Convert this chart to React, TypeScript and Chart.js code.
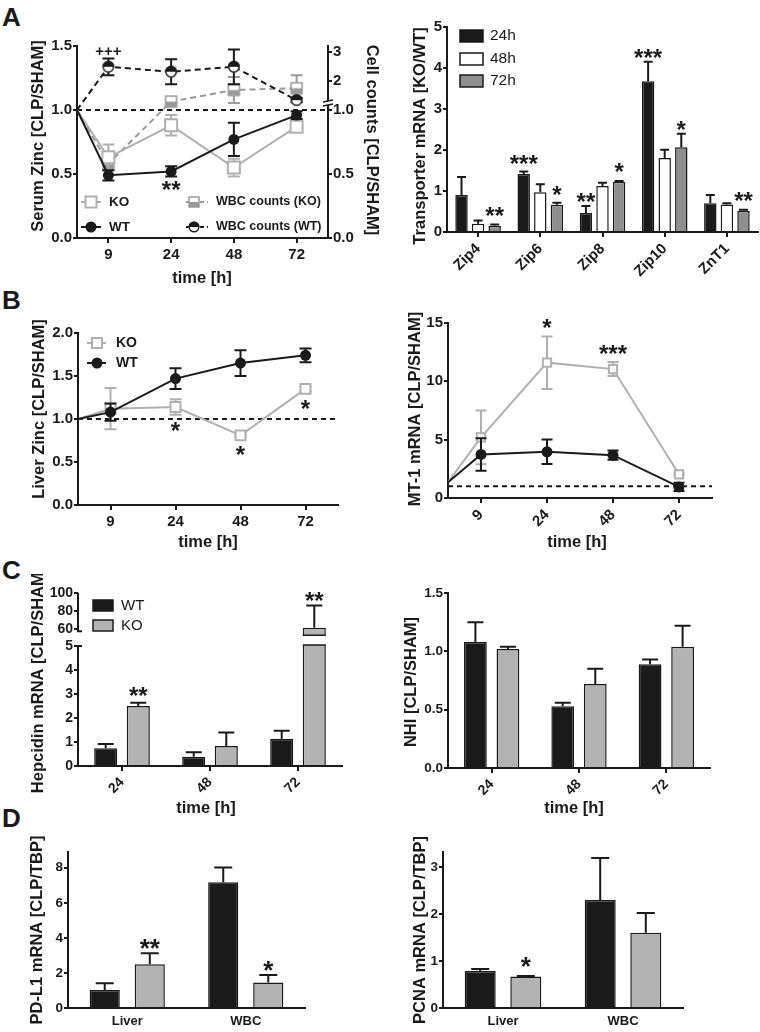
import React, { useEffect, useRef } from 'react';
import { Chart, registerables } from 'chart.js';

Chart.register(...registerables);

const FONT = '"Liberation Sans", Arial, Helvetica, sans-serif';
Chart.defaults.font.family = FONT;

const INK = '#1a1a1a';
const KO_GRAY = '#b0b0b0';
const WBC_GRAY = '#9a9a9a';
const BAR_LIGHT = '#b3b3b3';
const BAR_MID = '#8f8f8f';

// ================= DATA =================
// Panel A (left): serum zinc and WBC counts [CLP/SHAM]; first value = baseline at axis start
const TIME_LABELS = ['9', '24', '48', '72'];
const A_KO_ZINC = [1.0, 0.63, 0.88, 0.55, 0.87];
const A_KO_ZINC_SEM = [0, 0.1, 0.08, 0.07, 0.03];
const A_WT_ZINC = [1.0, 0.49, 0.52, 0.77, 0.96];
const A_WT_ZINC_SEM = [0, 0.04, 0.04, 0.13, 0.03];
const A_KO_WBC = [1.0, 0.58, 1.29, 1.69, 1.75];
const A_KO_WBC_SEM = [0, 0.05, 0.06, 0.45, 0.45];
const A_WT_WBC = [1.0, 2.49, 2.32, 2.49, 1.34];
const A_WT_WBC_SEM = [0, 0.29, 0.43, 0.6, 0.07];
const A_ZINC_TICKS = [0, 0.5, 1.0, 1.5];
const A_CELL_TICKS = [0, 0.5, 1.0, 2, 3];

// Panel A (right): transporter mRNA [KO/WT]
const ZIP_GENES = ['Zip4', 'Zip6', 'Zip8', 'Zip10', 'ZnT1'];
const ZIP_24H = [0.9, 1.41, 0.46, 3.67, 0.7];
const ZIP_24H_SEM = [0.44, 0.06, 0.17, 0.47, 0.2];
const ZIP_48H = [0.2, 0.97, 1.12, 1.8, 0.67];
const ZIP_48H_SEM = [0.08, 0.19, 0.08, 0.2, 0.03];
const ZIP_72H = [0.15, 0.66, 1.22, 2.06, 0.52];
const ZIP_72H_SEM = [0.03, 0.05, 0.02, 0.33, 0.02];
const ZIP_TICKS = [0, 1, 2, 3, 4, 5];

// Panel B (left): liver zinc
const B_KO_LIVER = [1.0, 1.12, 1.14, 0.81, 1.35];
const B_KO_LIVER_SEM = [0, 0.24, 0.09, 0.02, 0.03];
const B_WT_LIVER = [1.0, 1.08, 1.47, 1.65, 1.74];
const B_WT_LIVER_SEM = [0, 0.1, 0.12, 0.15, 0.08];
const B_LIVER_TICKS = [0, 0.5, 1.0, 1.5, 2.0];

// Panel B (right): MT-1 mRNA
const B_KO_MT1 = [1.35, 5.2, 11.6, 11.05, 2.03];
const B_KO_MT1_SEM = [0, 2.3, 2.25, 0.6, 0.1];
const B_WT_MT1 = [1.35, 3.73, 3.96, 3.67, 0.95];
const B_WT_MT1_SEM = [0, 1.4, 1.05, 0.4, 0.35];
const B_MT1_TICKS = [0, 5, 10, 15];

// Panel C (left): hepcidin mRNA
const C_TIMES = ['24', '48', '72'];
const C_WT_HEPC = [0.74, 0.39, 1.14];
const C_WT_HEPC_SEM = [0.18, 0.18, 0.33];
const C_KO_HEPC = [2.5, 0.83, 61.5];
const C_KO_HEPC_SEM = [0.13, 0.57, 24.5];
const C_HEPC_TICKS = [0, 1, 2, 3, 4, 5, 60, 80, 100];

// Panel C (right): NHI
const C_WT_NHI = [1.08, 0.53, 0.89];
const C_WT_NHI_SEM = [0.17, 0.03, 0.04];
const C_KO_NHI = [1.02, 0.72, 1.04];
const C_KO_NHI_SEM = [0.02, 0.13, 0.18];
const C_NHI_TICKS = [0, 0.5, 1.0, 1.5];

// Panel D
const D_TISSUES = ['Liver', 'WBC'];
const D_WT_PDL1 = [1.03, 7.18];
const D_WT_PDL1_SEM = [0.38, 0.84];
const D_KO_PDL1 = [2.5, 1.45];
const D_KO_PDL1_SEM = [0.62, 0.43];
const D_PDL1_TICKS = [0, 2, 4, 6, 8];
const D_WT_PCNA = [0.79, 2.3];
const D_WT_PCNA_SEM = [0.04, 0.89];
const D_KO_PCNA = [0.67, 1.6];
const D_KO_PCNA_SEM = [0.01, 0.42];
const D_PCNA_TICKS = [0, 1, 2, 3];

// broken-axis transforms
const A_UPPER_K = 29 / 128;
const brkA = (v: number) => (v <= 1 ? v : 1 + (v - 1) * A_UPPER_K);
const C_GAP = 0.7;
const C_UPPER_K = 0.038;
const brkC = (v: number) => (v <= 5 ? v : 5 + C_GAP + (v - 60) * C_UPPER_K);
const ident = (v: number) => v;

// ================= HELPERS =================
type Frame = { cx: number; cy: number; cw: number; ch: number; L: number; T: number; R: number; B: number };
type Txt = { text: string; x: number; y: number; size: number; bold?: boolean; rot?: number; align?: CanvasTextAlign };
type Annot = { ds: number; i: number; text: string; where: 'above' | 'below'; size: number; gap?: number };

function drawMarker(g: any, kind: string, x: number, y: number, size: number, color: string) {
  const h = size / 2;
  g.save();
  g.lineWidth = 2;
  g.strokeStyle = color;
  if (kind === 'openSquare') {
    g.fillStyle = '#fff';
    g.fillRect(x - h, y - h, size, size);
    g.strokeRect(x - h, y - h, size, size);
  } else if (kind === 'dot') {
    g.fillStyle = color;
    g.beginPath();
    g.arc(x, y, h, 0, Math.PI * 2);
    g.fill();
  } else if (kind === 'halfSquare') {
    g.fillStyle = '#fff';
    g.fillRect(x - h, y - h, size, size);
    g.fillStyle = color;
    g.fillRect(x - h, y, size, h);
    g.lineWidth = 1.5;
    g.strokeRect(x - h, y - h, size, size);
  } else if (kind === 'halfCircle') {
    g.fillStyle = '#fff';
    g.beginPath();
    g.arc(x, y, h, 0, Math.PI * 2);
    g.fill();
    g.fillStyle = color;
    g.beginPath();
    g.arc(x, y, h, Math.PI, Math.PI * 2);
    g.closePath();
    g.fill();
    g.lineWidth = 1.5;
    g.beginPath();
    g.arc(x, y, h - 0.75, 0, Math.PI * 2);
    g.stroke();
  }
  g.restore();
}

function markerImage(kind: string, size: number, color: string) {
  const c = document.createElement('canvas');
  const s = Math.ceil(size + 4);
  c.width = s;
  c.height = s;
  drawMarker(c.getContext('2d'), kind, s / 2, s / 2, size, color);
  return c;
}

function tickFont(size: number) {
  return { family: FONT, size, weight: 'bold' as const };
}

function yScale(f: Frame, o: { min: number; max: number; ticks: number[]; fmt: (i: number) => string; size: number; position?: string; border?: boolean }) {
  const pos = o.position || 'left';
  return {
    type: 'linear',
    position: pos,
    min: o.min,
    max: o.max,
    afterBuildTicks: (s: any) => {
      s.ticks = o.ticks.map((v) => ({ value: v }));
    },
    afterFit: (s: any) => {
      s.width = pos === 'left' ? f.L - f.cx : f.cx + f.cw - f.R;
    },
    ticks: { font: tickFont(o.size), color: INK, padding: 1, autoSkip: false, callback: (_v: any, i: number) => o.fmt(i) },
    grid: { display: true, drawOnChartArea: false, drawTicks: true, tickLength: 4, tickWidth: 2, tickColor: INK, color: INK, lineWidth: 2 },
    border: { display: o.border === undefined ? true : o.border, color: INK, width: 2 },
  };
}

function xLinear(f: Frame, labels: string[], size: number, rotate: number) {
  return {
    type: 'linear',
    min: 0.5,
    max: labels.length + 0.5,
    afterBuildTicks: (s: any) => {
      s.ticks = labels.map((_, i) => ({ value: i + 1 }));
    },
    afterFit: (s: any) => {
      s.height = f.cy + f.ch - f.B;
    },
    ticks: { font: tickFont(size), color: INK, padding: 3, autoSkip: false, maxRotation: rotate, minRotation: rotate, callback: (_v: any, i: number) => labels[i] },
    grid: { display: true, drawOnChartArea: false, drawTicks: true, tickLength: 5, tickWidth: 2, tickColor: INK, color: INK, lineWidth: 2 },
    border: { display: true, color: INK, width: 2 },
  };
}

function xCategory(f: Frame, size: number, rotate: number, drawTicks: boolean, padding: number) {
  return {
    type: 'category',
    offset: true,
    afterFit: (s: any) => {
      s.height = f.cy + f.ch - f.B;
    },
    ticks: { font: tickFont(size), color: INK, padding, autoSkip: false, maxRotation: rotate, minRotation: rotate },
    grid: { display: true, offset: false, drawOnChartArea: false, drawTicks, tickLength: drawTicks ? 5 : 0, tickWidth: 2, tickColor: INK, color: INK, lineWidth: 2 },
    border: { display: true, color: INK, width: 2 },
  };
}

function baseOptions(f: Frame, scales: any, hasRight: boolean) {
  return {
    responsive: false,
    maintainAspectRatio: false,
    animation: false,
    devicePixelRatio: 1,
    events: [],
    layout: { padding: { left: 0, top: f.T - f.cy, right: hasRight ? 0 : f.cx + f.cw - f.R, bottom: 0 } },
    plugins: { legend: { display: false }, tooltip: { enabled: false }, title: { display: false } },
    scales,
  };
}

function drawTxt(ctx: any, f: Frame, t: Txt) {
  ctx.save();
  ctx.font = `${t.bold === false ? 'normal' : 'bold'} ${t.size}px ${FONT}`;
  ctx.fillStyle = INK;
  ctx.textAlign = t.align || 'center';
  ctx.textBaseline = 'middle';
  ctx.translate(t.x - f.cx, t.y - f.cy);
  if (t.rot) ctx.rotate(t.rot);
  ctx.fillText(t.text, 0, 0);
  ctx.restore();
}

function drawErr(chart: any, index: number, layer: string) {
  const ds: any = chart.data.datasets[index];
  if (!ds.errHi || ds.errLayer !== layer) return;
  const meta = chart.getDatasetMeta(index);
  const ys = chart.scales[meta.yAxisID];
  const ctx = chart.ctx;
  ctx.save();
  ctx.strokeStyle = ds.errColor;
  ctx.lineWidth = 2;
  meta.data.forEach((el: any, j: number) => {
    const hi = ds.errHi[j];
    if (hi === null || hi === undefined) return;
    const x = el.x;
    const yHi = ys.getPixelForValue(hi);
    const yLo = ds.errLo ? ys.getPixelForValue(ds.errLo[j]) : el.y;
    const cw = ds.capW / 2;
    ctx.beginPath();
    ctx.moveTo(x, yLo);
    ctx.lineTo(x, yHi);
    ctx.moveTo(x - cw, yHi);
    ctx.lineTo(x + cw, yHi);
    if (ds.errLo) {
      ctx.moveTo(x - cw, yLo);
      ctx.lineTo(x + cw, yLo);
    }
    ctx.stroke();
  });
  ctx.restore();
}

function drawAnnots(chart: any, annots: Annot[]) {
  const ctx = chart.ctx;
  annots.forEach((a) => {
    const ds: any = chart.data.datasets[a.ds];
    const meta = chart.getDatasetMeta(a.ds);
    const el: any = meta.data[a.i];
    const ys = chart.scales[meta.yAxisID];
    const gap = a.gap === undefined ? 4 : a.gap;
    ctx.save();
    ctx.font = `bold ${a.size}px ${FONT}`;
    ctx.fillStyle = INK;
    ctx.textAlign = 'center';
    ctx.textBaseline = 'alphabetic';
    const m = ctx.measureText(a.text);
    if (a.where === 'above') {
      const hi = ds.errHi && ds.errHi[a.i] != null ? ys.getPixelForValue(ds.errHi[a.i]) : el.y;
      const top = Math.min(hi, el.y - 6);
      ctx.fillText(a.text, el.x, top - gap - m.actualBoundingBoxDescent);
    } else {
      const lo = ds.errLo && ds.errLo[a.i] != null ? ys.getPixelForValue(ds.errLo[a.i]) : el.y;
      const bot = Math.max(lo, el.y + 6);
      ctx.fillText(a.text, el.x, bot + gap + m.actualBoundingBoxAscent);
    }
    ctx.restore();
  });
}

function decor(f: Frame, o: { titles: Txt[]; annots?: Annot[]; refLine?: number; legend?: (ctx: any) => void; overlay?: (chart: any) => void }) {
  return {
    id: 'decor',
    beforeDatasetsDraw(chart: any) {
      if (o.refLine === undefined) return;
      const ctx = chart.ctx;
      const y = chart.scales.y.getPixelForValue(o.refLine);
      ctx.save();
      ctx.strokeStyle = INK;
      ctx.lineWidth = 2;
      ctx.setLineDash([5, 4]);
      ctx.beginPath();
      ctx.moveTo(chart.chartArea.left, y);
      ctx.lineTo(chart.chartArea.right, y);
      ctx.stroke();
      ctx.restore();
    },
    beforeDatasetDraw(chart: any, args: any) {
      drawErr(chart, args.index, 'below');
    },
    afterDatasetDraw(chart: any, args: any) {
      drawErr(chart, args.index, 'above');
    },
    afterDraw(chart: any) {
      const ctx = chart.ctx;
      if (o.overlay) o.overlay(chart);
      if (o.annots) drawAnnots(chart, o.annots);
      if (o.legend) o.legend(ctx);
      o.titles.forEach((t) => drawTxt(ctx, f, t));
    },
  };
}

function lineSeries(vals: number[], sem: number[], map: (v: number) => number) {
  const pos = [0.5, ...TIME_LABELS.map((_, i) => i + 1)];
  return {
    data: vals.map((v, i) => ({ x: pos[i], y: map(v) })),
    errHi: vals.map((v, i) => (sem[i] ? map(v + sem[i]) : null)),
    errLo: vals.map((v, i) => (sem[i] ? map(v - sem[i]) : null)),
  };
}

function radii(n: number, r: number) {
  return Array.from({ length: n }, (_, i) => (i === 0 ? 0 : r));
}

function barSeries(vals: number[], sem: number[], map: (v: number) => number) {
  return { data: vals.map(map), errHi: vals.map((v, i) => map(v + sem[i])) };
}

function lineLegend(ctx: any, f: Frame, items: any[]) {
  items.forEach((it) => {
    ctx.save();
    ctx.strokeStyle = it.color;
    ctx.lineWidth = 2;
    if (it.dash) ctx.setLineDash([4, 3]);
    ctx.beginPath();
    ctx.moveTo(it.x1 - f.cx, it.y - f.cy);
    ctx.lineTo(it.x2 - f.cx, it.y - f.cy);
    ctx.stroke();
    ctx.restore();
    drawMarker(ctx, it.kind, it.mx - f.cx, it.y - f.cy, it.size, it.color);
    drawTxt(ctx, f, { text: it.text, x: it.tx, y: it.y, size: it.fs, align: 'left' });
  });
}

function boxLegend(ctx: any, f: Frame, items: any[]) {
  items.forEach((it) => {
    ctx.save();
    ctx.fillStyle = it.fill;
    ctx.strokeStyle = INK;
    ctx.lineWidth = 1.5;
    ctx.fillRect(it.x - f.cx, it.y - f.cy, it.w, it.h);
    ctx.strokeRect(it.x - f.cx, it.y - f.cy, it.w, it.h);
    ctx.restore();
    drawTxt(ctx, f, { text: it.text, x: it.tx, y: it.y + it.h / 2, size: it.fs, bold: false, align: 'left' });
  });
}

// ================= PANELS =================
const FA1: Frame = { cx: 0, cy: 26, cw: 390, ch: 266, L: 77, T: 46, B: 238, R: 328 };
function buildA1(f: Frame) {
  const halfC = markerImage('halfCircle', 12, INK);
  const halfS = markerImage('halfSquare', 11, WBC_GRAY);
  const datasets = [
    { label: 'WT', ...lineSeries(A_WT_ZINC, A_WT_ZINC_SEM, ident), yAxisID: 'y', borderColor: INK, borderWidth: 2, pointStyle: 'circle', pointRadius: radii(5, 5.5), pointBackgroundColor: INK, pointBorderColor: INK, pointBorderWidth: 0, errColor: INK, capW: 12, errLayer: 'below' },
    { label: 'KO', ...lineSeries(A_KO_ZINC, A_KO_ZINC_SEM, ident), yAxisID: 'y', borderColor: KO_GRAY, borderWidth: 2, pointStyle: 'rect', pointRadius: radii(5, 8.5), pointBackgroundColor: '#fff', pointBorderColor: KO_GRAY, pointBorderWidth: 2, errColor: KO_GRAY, capW: 12, errLayer: 'below' },
    { label: 'WBC counts (WT)', ...lineSeries(A_WT_WBC, A_WT_WBC_SEM, brkA), yAxisID: 'y2', borderColor: INK, borderWidth: 2, borderDash: [6, 4], pointStyle: halfC, pointRadius: radii(5, 6), errColor: INK, capW: 12, errLayer: 'below' },
    { label: 'WBC counts (KO)', ...lineSeries(A_KO_WBC, A_KO_WBC_SEM, brkA), yAxisID: 'y2', borderColor: WBC_GRAY, borderWidth: 2, borderDash: [6, 4], pointStyle: halfS, pointRadius: radii(5, 6), errColor: WBC_GRAY, capW: 12, errLayer: 'below' },
  ];
  const scales = {
    x: xLinear(f, TIME_LABELS, 15, 0),
    y: yScale(f, { min: 0, max: 1.5, ticks: A_ZINC_TICKS, fmt: (i) => A_ZINC_TICKS[i].toFixed(1), size: 15 }),
    y2: yScale(f, { min: 0, max: 1.5, ticks: A_CELL_TICKS.map(brkA), fmt: (i) => (A_CELL_TICKS[i] <= 1 ? A_CELL_TICKS[i].toFixed(1) : String(A_CELL_TICKS[i])), size: 15, position: 'right' }),
  };
  const plugin = decor(f, {
    refLine: 1,
    titles: [
      { text: 'Serum Zinc [CLP/SHAM]', x: 38, y: 136, size: 16.5, rot: -Math.PI / 2 },
      { text: 'Cell counts [CLP/SHAM]', x: 372, y: 140, size: 16.5, rot: Math.PI / 2 },
      { text: 'time [h]', x: 202, y: 278, size: 16.5 },
    ],
    annots: [
      { ds: 0, i: 2, text: '**', where: 'below', size: 24, gap: 4 },
      { ds: 2, i: 1, text: '+++', where: 'above', size: 15, gap: 3 },
    ],
    overlay: (chart: any) => {
      const ctx = chart.ctx;
      const x = chart.chartArea.right;
      const y = chart.scales.y2.getPixelForValue(1) - 7;
      ctx.save();
      ctx.fillStyle = '#fff';
      ctx.fillRect(x - 3, y - 2, 6, 4);
      ctx.strokeStyle = INK;
      ctx.lineWidth = 1.5;
      ctx.beginPath();
      ctx.moveTo(x - 5, y - 1);
      ctx.lineTo(x + 5, y - 3);
      ctx.moveTo(x - 5, y + 3);
      ctx.lineTo(x + 5, y + 1);
      ctx.stroke();
      ctx.restore();
    },
    legend: (ctx: any) =>
      lineLegend(ctx, f, [
        { kind: 'openSquare', color: KO_GRAY, x1: 81, x2: 101, mx: 91, y: 202, size: 11, text: 'KO', tx: 109, fs: 13.5 },
        { kind: 'dot', color: INK, x1: 81, x2: 101, mx: 91, y: 227, size: 11, text: 'WT', tx: 109, fs: 13.5 },
        { kind: 'halfSquare', color: WBC_GRAY, dash: true, x1: 186, x2: 208, mx: 194, y: 202, size: 10, text: 'WBC counts (KO)', tx: 216, fs: 12.5 },
        { kind: 'halfCircle', color: INK, dash: true, x1: 186, x2: 208, mx: 194, y: 227, size: 11, text: 'WBC counts (WT)', tx: 216, fs: 12.5 },
      ]),
  });
  return { type: 'line', data: { datasets }, options: baseOptions(f, scales, true), plugins: [plugin] };
}

const FA2: Frame = { cx: 390, cy: 8, cw: 370, ch: 284, L: 447, T: 26.5, B: 232, R: 758 };
function buildA2(f: Frame) {
  const common = { borderColor: INK, borderWidth: 1.5, categoryPercentage: 0.8, barPercentage: 0.75, errColor: INK, capW: 9, errLayer: 'above' };
  const datasets = [
    { label: '24h', ...barSeries(ZIP_24H, ZIP_24H_SEM, ident), backgroundColor: INK, ...common },
    { label: '48h', ...barSeries(ZIP_48H, ZIP_48H_SEM, ident), backgroundColor: '#ffffff', ...common },
    { label: '72h', ...barSeries(ZIP_72H, ZIP_72H_SEM, ident), backgroundColor: BAR_MID, ...common },
  ];
  const scales = {
    x: xCategory(f, 15, 45, true, 3),
    y: yScale(f, { min: 0, max: 5, ticks: ZIP_TICKS, fmt: (i) => String(ZIP_TICKS[i]), size: 15 }),
  };
  const plugin = decor(f, {
    titles: [{ text: 'Transporter mRNA [KO/WT]', x: 420, y: 136, size: 16.5, rot: -Math.PI / 2 }],
    annots: [
      { ds: 2, i: 0, text: '**', where: 'above', size: 24 },
      { ds: 0, i: 1, text: '***', where: 'above', size: 24 },
      { ds: 2, i: 1, text: '*', where: 'above', size: 24 },
      { ds: 0, i: 2, text: '**', where: 'above', size: 24 },
      { ds: 2, i: 2, text: '*', where: 'above', size: 24 },
      { ds: 0, i: 3, text: '***', where: 'above', size: 24 },
      { ds: 2, i: 3, text: '*', where: 'above', size: 24 },
      { ds: 2, i: 4, text: '**', where: 'above', size: 24 },
    ],
    legend: (ctx: any) =>
      boxLegend(ctx, f, [
        { x: 460, y: 30, w: 23, h: 12, fill: INK, text: '24h', tx: 490, fs: 15.5 },
        { x: 460, y: 53, w: 23, h: 12, fill: '#ffffff', text: '48h', tx: 490, fs: 15.5 },
        { x: 460, y: 75, w: 23, h: 12, fill: BAR_MID, text: '72h', tx: 490, fs: 15.5 },
      ]),
  });
  return { type: 'bar', data: { labels: ZIP_GENES, datasets }, options: baseOptions(f, scales, false), plugins: [plugin] };
}

const FB1: Frame = { cx: 0, cy: 312, cw: 390, ch: 248, L: 78, T: 333, B: 505, R: 338 };
function buildB1(f: Frame) {
  const datasets = [
    { label: 'WT', ...lineSeries(B_WT_LIVER, B_WT_LIVER_SEM, ident), yAxisID: 'y', borderColor: INK, borderWidth: 2, pointStyle: 'circle', pointRadius: radii(5, 5.5), pointBackgroundColor: INK, pointBorderColor: INK, pointBorderWidth: 0, errColor: INK, capW: 12, errLayer: 'below' },
    { label: 'KO', ...lineSeries(B_KO_LIVER, B_KO_LIVER_SEM, ident), yAxisID: 'y', borderColor: KO_GRAY, borderWidth: 2, pointStyle: 'rect', pointRadius: radii(5, 7), pointBackgroundColor: '#fff', pointBorderColor: KO_GRAY, pointBorderWidth: 2, errColor: KO_GRAY, capW: 12, errLayer: 'below' },
  ];
  const scales = {
    x: xLinear(f, TIME_LABELS, 15, 0),
    y: yScale(f, { min: 0, max: 2, ticks: B_LIVER_TICKS, fmt: (i) => B_LIVER_TICKS[i].toFixed(1), size: 15 }),
  };
  const plugin = decor(f, {
    refLine: 1,
    titles: [
      { text: 'Liver Zinc [CLP/SHAM]', x: 39, y: 409, size: 16.5, rot: -Math.PI / 2 },
      { text: 'time [h]', x: 208, y: 542, size: 16.5 },
    ],
    annots: [
      { ds: 1, i: 2, text: '*', where: 'below', size: 24, gap: 7 },
      { ds: 1, i: 3, text: '*', where: 'below', size: 24, gap: 5 },
      { ds: 1, i: 4, text: '*', where: 'below', size: 24, gap: 5 },
    ],
    legend: (ctx: any) =>
      lineLegend(ctx, f, [
        { kind: 'openSquare', color: KO_GRAY, x1: 87, x2: 106, mx: 97, y: 343, size: 10, text: 'KO', tx: 116, fs: 14 },
        { kind: 'dot', color: INK, x1: 87, x2: 106, mx: 97, y: 363, size: 11, text: 'WT', tx: 116, fs: 14 },
      ]),
  });
  return { type: 'line', data: { datasets }, options: baseOptions(f, scales, false), plugins: [plugin] };
}

const FB2: Frame = { cx: 390, cy: 305, cw: 370, ch: 255, L: 448, T: 323, B: 498, R: 712 };
function buildB2(f: Frame) {
  const datasets = [
    { label: 'WT', ...lineSeries(B_WT_MT1, B_WT_MT1_SEM, ident), yAxisID: 'y', borderColor: INK, borderWidth: 2, pointStyle: 'circle', pointRadius: radii(5, 5.5), pointBackgroundColor: INK, pointBorderColor: INK, pointBorderWidth: 0, errColor: INK, capW: 11, errLayer: 'below' },
    { label: 'KO', ...lineSeries(B_KO_MT1, B_KO_MT1_SEM, ident), yAxisID: 'y', borderColor: KO_GRAY, borderWidth: 2, pointStyle: 'rect', pointRadius: radii(5, 5.8), pointBackgroundColor: '#fff', pointBorderColor: KO_GRAY, pointBorderWidth: 2, errColor: KO_GRAY, capW: 11, errLayer: 'below' },
  ];
  const scales = {
    x: xLinear(f, TIME_LABELS, 15, 45),
    y: yScale(f, { min: 0, max: 15, ticks: B_MT1_TICKS, fmt: (i) => String(B_MT1_TICKS[i]), size: 15 }),
  };
  const plugin = decor(f, {
    refLine: 1,
    titles: [
      { text: 'MT-1 mRNA [CLP/SHAM]', x: 415, y: 409, size: 16.5, rot: -Math.PI / 2 },
      { text: 'time [h]', x: 577, y: 542, size: 16.5 },
    ],
    annots: [
      { ds: 1, i: 2, text: '*', where: 'above', size: 24, gap: 8 },
      { ds: 1, i: 3, text: '***', where: 'above', size: 24, gap: 8 },
    ],
  });
  return { type: 'line', data: { datasets }, options: baseOptions(f, scales, false), plugins: [plugin] };
}

const FC1: Frame = { cx: 0, cy: 574, cw: 390, ch: 251, L: 78, T: 592.7, B: 766, R: 342 };
function buildC1(f: Frame) {
  const common = { borderColor: INK, borderWidth: 1.5, categoryPercentage: 0.74, barPercentage: 0.71, errColor: INK, capW: 16, errLayer: 'above' };
  const datasets = [
    { label: 'WT', ...barSeries(C_WT_HEPC, C_WT_HEPC_SEM, brkC), backgroundColor: INK, ...common },
    { label: 'KO', ...barSeries(C_KO_HEPC, C_KO_HEPC_SEM, brkC), backgroundColor: BAR_LIGHT, ...common },
  ];
  const scales = {
    x: xCategory(f, 14, 45, true, 3),
    y: yScale(f, { min: 0, max: brkC(100), ticks: C_HEPC_TICKS.map(brkC), fmt: (i) => String(C_HEPC_TICKS[i]), size: 14, border: false }),
  };
  const plugin = decor(f, {
    titles: [
      { text: 'Hepcidin mRNA [CLP/SHAM]', x: 38, y: 680, size: 16.5, rot: -Math.PI / 2 },
      { text: 'time [h]', x: 206, y: 808, size: 16.5 },
    ],
    annots: [
      { ds: 1, i: 0, text: '**', where: 'above', size: 24 },
      { ds: 1, i: 2, text: '**', where: 'above', size: 24 },
    ],
    overlay: (chart: any) => {
      const ctx = chart.ctx;
      const ys = chart.scales.y;
      const x0 = chart.chartArea.left;
      const yTop = ys.getPixelForValue(brkC(100));
      const y60 = ys.getPixelForValue(brkC(60));
      const y5 = ys.getPixelForValue(5);
      const y0 = ys.getPixelForValue(0);
      ctx.save();
      ctx.strokeStyle = INK;
      ctx.lineWidth = 2;
      ctx.beginPath();
      ctx.moveTo(x0, yTop);
      ctx.lineTo(x0, y60 + 2);
      ctx.moveTo(x0 - 1, y60 + 2);
      ctx.lineTo(x0 + 4, y60 + 2);
      ctx.moveTo(x0, y5);
      ctx.lineTo(x0, y0 + 1);
      ctx.moveTo(x0 - 1, y5);
      ctx.lineTo(x0 + 4, y5);
      ctx.stroke();
      // broken bar
      const meta = chart.getDatasetMeta(1);
      C_KO_HEPC.forEach((v, i) => {
        if (v <= 5) return;
        const el: any = meta.data[i];
        const w = el.width;
        const bTop = y60 + 6;
        const bBot = y5 - 1;
        ctx.fillStyle = '#fff';
        ctx.fillRect(el.x - w / 2 - 1, bTop, w + 2, bBot - bTop);
        ctx.lineWidth = 1.5;
        ctx.beginPath();
        ctx.moveTo(el.x - w / 2, bTop);
        ctx.lineTo(el.x + w / 2, bTop);
        ctx.moveTo(el.x - w / 2, bBot);
        ctx.lineTo(el.x + w / 2, bBot);
        ctx.stroke();
      });
      ctx.restore();
    },
    legend: (ctx: any) =>
      boxLegend(ctx, f, [
        { x: 93, y: 600, w: 20, h: 11, fill: INK, text: 'WT', tx: 121, fs: 15 },
        { x: 93, y: 620, w: 20, h: 11, fill: BAR_LIGHT, text: 'KO', tx: 121, fs: 15 },
      ]),
  });
  return { type: 'bar', data: { labels: C_TIMES, datasets }, options: baseOptions(f, scales, false), plugins: [plugin] };
}

const FC2: Frame = { cx: 390, cy: 574, cw: 370, ch: 251, L: 448, T: 593, B: 768, R: 710 };
function buildC2(f: Frame) {
  const common = { borderColor: INK, borderWidth: 1.5, categoryPercentage: 0.745, barPercentage: 0.7, errColor: INK, capW: 16, errLayer: 'above' };
  const datasets = [
    { label: 'WT', ...barSeries(C_WT_NHI, C_WT_NHI_SEM, ident), backgroundColor: INK, ...common },
    { label: 'KO', ...barSeries(C_KO_NHI, C_KO_NHI_SEM, ident), backgroundColor: BAR_LIGHT, ...common },
  ];
  const scales = {
    x: xCategory(f, 14, 45, true, 3),
    y: yScale(f, { min: 0, max: 1.5, ticks: C_NHI_TICKS, fmt: (i) => C_NHI_TICKS[i].toFixed(1), size: 13.5 }),
  };
  const plugin = decor(f, {
    titles: [
      { text: 'NHI [CLP/SHAM]', x: 411, y: 682, size: 16.5, rot: -Math.PI / 2 },
      { text: 'time [h]', x: 574, y: 808, size: 16.5 },
    ],
  });
  return { type: 'bar', data: { labels: C_TIMES, datasets }, options: baseOptions(f, scales, false), plugins: [plugin] };
}

const FD1: Frame = { cx: 0, cy: 836, cw: 390, ch: 196, L: 68, T: 852, B: 1008, R: 305 };
function buildD1(f: Frame) {
  const common = { borderColor: INK, borderWidth: 1.5, categoryPercentage: 0.76, barPercentage: 0.67, errColor: INK, capW: 18, errLayer: 'above' };
  const datasets = [
    { label: 'WT', ...barSeries(D_WT_PDL1, D_WT_PDL1_SEM, ident), backgroundColor: INK, ...common },
    { label: 'KO', ...barSeries(D_KO_PDL1, D_KO_PDL1_SEM, ident), backgroundColor: BAR_LIGHT, ...common },
  ];
  const scales = {
    x: xCategory(f, 13, 0, false, 6),
    y: yScale(f, { min: 0, max: 8.9, ticks: D_PDL1_TICKS, fmt: (i) => String(D_PDL1_TICKS[i]), size: 13.5 }),
  };
  const plugin = decor(f, {
    titles: [{ text: 'PD-L1 mRNA [CLP/TBP]', x: 37, y: 930, size: 16.5, rot: -Math.PI / 2 }],
    annots: [
      { ds: 1, i: 0, text: '**', where: 'above', size: 26 },
      { ds: 1, i: 1, text: '*', where: 'above', size: 26 },
    ],
  });
  return { type: 'bar', data: { labels: D_TISSUES, datasets }, options: baseOptions(f, scales, false), plugins: [plugin] };
}

const FD2: Frame = { cx: 390, cy: 836, cw: 370, ch: 196, L: 443, T: 852, B: 1008, R: 683 };
function buildD2(f: Frame) {
  const common = { borderColor: INK, borderWidth: 1.5, categoryPercentage: 0.76, barPercentage: 0.68, errColor: INK, capW: 18, errLayer: 'above' };
  const datasets = [
    { label: 'WT', ...barSeries(D_WT_PCNA, D_WT_PCNA_SEM, ident), backgroundColor: INK, ...common },
    { label: 'KO', ...barSeries(D_KO_PCNA, D_KO_PCNA_SEM, ident), backgroundColor: BAR_LIGHT, ...common },
  ];
  const scales = {
    x: xCategory(f, 13, 0, false, 6),
    y: yScale(f, { min: 0, max: 3.32, ticks: D_PCNA_TICKS, fmt: (i) => String(D_PCNA_TICKS[i]), size: 13.5 }),
  };
  const plugin = decor(f, {
    titles: [{ text: 'PCNA mRNA [CLP/TBP]', x: 420, y: 930, size: 16.5, rot: -Math.PI / 2 }],
    annots: [{ ds: 1, i: 0, text: '*', where: 'above', size: 26 }],
  });
  return { type: 'bar', data: { labels: D_TISSUES, datasets }, options: baseOptions(f, scales, false), plugins: [plugin] };
}

function Panel({ frame, build }: { frame: Frame; build: (f: Frame) => any }) {
  const ref = useRef<HTMLCanvasElement>(null);
  useEffect(() => {
    const chart = new Chart(ref.current as HTMLCanvasElement, build(frame));
    return () => chart.destroy();
  }, []);
  return (
    <canvas
      ref={ref}
      width={frame.cw}
      height={frame.ch}
      style={{ position: 'absolute', left: frame.cx, top: frame.cy, width: frame.cw, height: frame.ch }}
    />
  );
}

const LETTERS = [
  { t: 'A', top: 3.5 },
  { t: 'B', top: 286.5 },
  { t: 'C', top: 556.5 },
  { t: 'D', top: 804.5 },
];

export default function App() {
  return (
    <div style={{ position: 'absolute', left: 0, top: 0, width: 760, height: 1032, background: '#fff', overflow: 'hidden' }}>
      {LETTERS.map((l) => (
        <div
          key={l.t}
          style={{ position: 'absolute', left: 2, top: l.top, fontFamily: FONT, fontWeight: 'bold', fontSize: 26, lineHeight: '26px', color: INK }}
        >
          {l.t}
        </div>
      ))}
      <Panel frame={FA1} build={buildA1} />
      <Panel frame={FA2} build={buildA2} />
      <Panel frame={FB1} build={buildB1} />
      <Panel frame={FB2} build={buildB2} />
      <Panel frame={FC1} build={buildC1} />
      <Panel frame={FC2} build={buildC2} />
      <Panel frame={FD1} build={buildD1} />
      <Panel frame={FD2} build={buildD2} />
    </div>
  );
}
